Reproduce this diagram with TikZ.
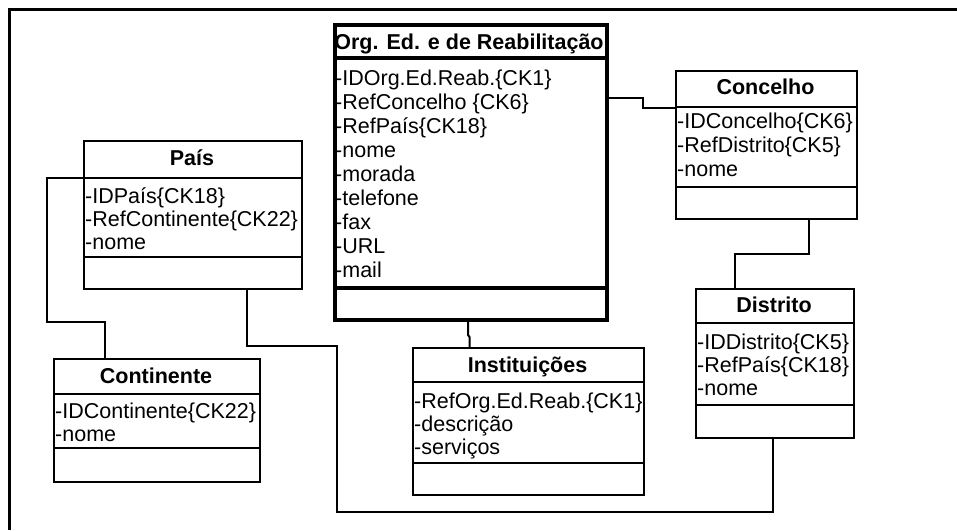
\documentclass[tikz,border=0pt]{standalone}
\usepackage{fontspec}
\setmainfont{Liberation Sans}
\begin{document}
\begin{tikzpicture}[x=1pt,y=-1pt,
  classbox/.style={draw, line width=2pt, rectangle, inner sep=0pt, anchor=north west},
  mainbox/.style={classbox, line width=4pt},
  ctitle/.style={font=\fontsize{21.5}{24}\selectfont\bfseries, inner sep=0pt, anchor=base},
  attr/.style={font=\fontsize{21.5}{24}\selectfont, inner sep=0pt, anchor=base west},
  conn/.style={line width=2pt},
  sepline/.style={line width=2pt},
  mainsep/.style={line width=4pt}]
\useasboundingbox (0,0) rectangle (957,530);

% frame edges
\draw[line width=3pt] (9,530) -- (9,9.5) -- (957,9.5);

% Org. Ed. e de Reabilitação
\node[mainbox, minimum width=272pt, minimum height=295pt] (org) at (333,23) {};
\draw[mainsep] ([yshift=-35pt]org.north west) -- ([yshift=-35pt]org.north east);
\draw[mainsep] ([yshift=-265pt]org.north west) -- ([yshift=-265pt]org.north east);
\node[ctitle] (orgT) at ([shift={(136,26)}]org.north west) {Org. Ed. e de Reabilitação};
\foreach \t [count=\i from 0] in {{-IDOrg.Ed.Reab.\{CK1\}},{-RefConcelho \{CK6\}},{-RefPaís\{CK18\}},{-nome},{-morada},{-telefone},{-fax},{-URL},{-mail}}
  \node[attr] (orgA\i) at ([shift={(2,{62+24*\i})}]org.north west) {\t};

% Concelho
\node[classbox, minimum width=181pt, minimum height=148pt] (conc) at (675,70) {};
\draw[sepline] ([yshift=-37pt]conc.north west) -- ([yshift=-37pt]conc.north east);
\draw[sepline] ([yshift=-117pt]conc.north west) -- ([yshift=-117pt]conc.north east);
\node[ctitle] (concT) at ([shift={(90.5,24)}]conc.north west) {Concelho};
\foreach \t [count=\i from 0] in {{-IDConcelho\{CK6\}},{-RefDistrito\{CK5\}},{-nome}}
  \node[attr] (concA\i) at ([shift={(2,{58+24*\i})}]conc.north west) {\t};

% País
\node[classbox, minimum width=218pt, minimum height=148pt] (pais) at (83,140) {};
\draw[sepline] ([yshift=-38pt]pais.north west) -- ([yshift=-38pt]pais.north east);
\draw[sepline] ([yshift=-117pt]pais.north west) -- ([yshift=-117pt]pais.north east);
\node[ctitle] (paisT) at ([shift={(109,25)}]pais.north west) {País};
\foreach \t [count=\i from 0] in {{-IDPaís\{CK18\}},{-RefContinente\{CK22\}},{-nome}}
  \node[attr] (paisA\i) at ([shift={(2,{63+23*\i})}]pais.north west) {\t};

% Continente
\node[classbox, minimum width=206pt, minimum height=123pt] (cont) at (53,358) {};
\draw[sepline] ([yshift=-36pt]cont.north west) -- ([yshift=-36pt]cont.north east);
\draw[sepline] ([yshift=-90pt]cont.north west) -- ([yshift=-90pt]cont.north east);
\node[ctitle] (contT) at ([shift={(103,25)}]cont.north west) {Continente};
\foreach \t [count=\i from 0] in {{-IDContinente\{CK22\}},{-nome}}
  \node[attr] (contA\i) at ([shift={(2,{60+23*\i})}]cont.north west) {\t};

% Instituições
\node[classbox, minimum width=231pt, minimum height=147pt] (inst) at (412,347) {};
\draw[sepline] ([yshift=-35pt]inst.north west) -- ([yshift=-35pt]inst.north east);
\draw[sepline] ([yshift=-116pt]inst.north west) -- ([yshift=-116pt]inst.north east);
\node[ctitle] (instT) at ([shift={(115.5,25)}]inst.north west) {Instituições};
\foreach \t [count=\i from 0] in {{-RefOrg.Ed.Reab.\{CK1\}},{-descrição},{-serviços}}
  \node[attr] (instA\i) at ([shift={(2,{61+23*\i})}]inst.north west) {\t};

% Distrito
\node[classbox, minimum width=158pt, minimum height=149pt] (dist) at (695,288) {};
\draw[sepline] ([yshift=-35pt]dist.north west) -- ([yshift=-35pt]dist.north east);
\draw[sepline] ([yshift=-117pt]dist.north west) -- ([yshift=-117pt]dist.north east);
\node[ctitle] (distT) at ([shift={(79,24)}]dist.north west) {Distrito};
\foreach \t [count=\i from 0] in {{-IDDistrito\{CK5\}},{-RefPaís\{CK18\}},{-nome}}
  \node[attr] (distA\i) at ([shift={(2,{61+23*\i})}]dist.north west) {\t};

% associations
\draw[conn] ([yshift=-75pt]org.north east) -- ++(34,0) |- ([yshift=-38pt]conc.north west);
\draw[conn] ([xshift=134pt]conc.south west) -- ++(0,34) -| ([xshift=40pt]dist.north west);
\draw[conn] ([xshift=78pt]dist.south west) -- ++(0,73) -- ++(-436,0) -- ++(0,-166) -| ([xshift=164pt]pais.south west);
\draw[conn] ([yshift=-38pt]pais.north west) -- ++(-36,0) -- ++(0,144) -| ([xshift=52pt]cont.north west);
\draw[conn] ([xshift=135pt]org.south west) -- ++(0,13) -- ++(1.5,2) |- ([xshift=58pt]inst.north west);
\end{tikzpicture}
\end{document}
